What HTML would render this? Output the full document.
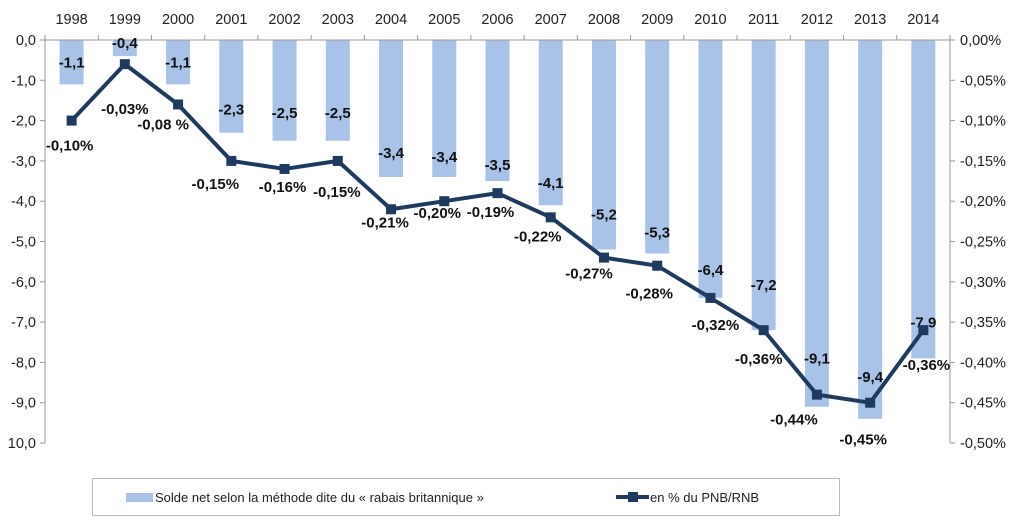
<!DOCTYPE html>
<html><head><meta charset="utf-8"><style>
body{margin:0;background:#fff;}
svg{display:block;font-family:"Liberation Sans",Arial,sans-serif;}
</style></head><body>
<svg id="chart" width="1028" height="521" viewBox="0 0 1028 521"></svg>
<script>
const years=["1998","1999","2000","2001","2002","2003","2004","2005","2006","2007","2008","2009","2010","2011","2012","2013","2014"];
const solde=[-1.1,-0.4,-1.1,-2.3,-2.5,-2.5,-3.4,-3.4,-3.5,-4.1,-5.2,-5.3,-6.4,-7.2,-9.1,-9.4,-7.9];
const pct=[-0.10,-0.03,-0.08,-0.15,-0.16,-0.15,-0.21,-0.20,-0.19,-0.22,-0.27,-0.28,-0.32,-0.36,-0.44,-0.45,-0.36];
const pctLabels=["-0,10%","-0,03%","-0,08 %","-0,15%","-0,16%","-0,15%","-0,21%","-0,20%","-0,19%","-0,22%","-0,27%","-0,28%","-0,32%","-0,36%","-0,44%","-0,45%","-0,36%"];
const leftTicks=["0,0","-1,0","-2,0","-3,0","-4,0","-5,0","-6,0","-7,0","-8,0","-9,0","10,0"];
const rightTicks=["0,00%","-0,05%","-0,10%","-0,15%","-0,20%","-0,25%","-0,30%","-0,35%","-0,40%","-0,45%","-0,50%"];
const barDy=[-22,-13,-22,-23,-28,-28,-24,-20,-16,-22,-35,-21,-28,-45,-48,-42,-36];
const lblOff=[[-2,25],[0,45],[-15,20],[-16,23],[-2,18],[-1,31],[-6,13],[-7,12],[-7,19],[-13,19],[-15,16],[-8,28],[5,27],[-5,29],[-23,25],[-7,37],[3,35]];
const NS="http://www.w3.org/2000/svg";
const svg=document.getElementById('chart');
const X0=45,X1=950,Y0=40,Y1=443;
const step=(X1-X0)/years.length;
const xc=i=>X0+step*(i+0.5);
const yL=v=>Y0+(-v/10)*(Y1-Y0);
const yR=v=>Y0+(-v/0.5)*(Y1-Y0);
function mk(t,a,txt){const e=document.createElementNS(NS,t);for(const k in a)e.setAttribute(k,a[k]);if(txt!==undefined)e.textContent=txt;svg.appendChild(e);return e;}
solde.forEach((v,i)=>{
 const r=mk('rect',{x:xc(i)-12,y:Y0,width:24,height:yL(v)-Y0,fill:'#a9c3e8'});
 
 
});
const la=mk('line',{x1:X0,y1:Y0,x2:X0,y2:Y1,stroke:'#999'});

const ra=mk('line',{x1:X1,y1:Y0,x2:X1,y2:Y1,stroke:'#999'});

const za=mk('line',{x1:X0,y1:Y0,x2:X1,y2:Y0,stroke:'#999'});

leftTicks.forEach((t,i)=>{
 const y=Y0+i*(Y1-Y0)/10;
 mk('line',{x1:X0-5,y1:y,x2:X0,y2:y,stroke:'#999'});
 mk('line',{x1:X1,y1:y,x2:X1+5,y2:y,stroke:'#999'});
 const a=mk('text',{x:X0-9,y:y+5,'text-anchor':'end','font-size':14.5,fill:'#222'},t);
 
 const b=mk('text',{x:X1+10,y:y+5,'font-size':14.5,fill:'#222'},rightTicks[i]);
 
});
years.forEach((yr,i)=>{
 mk('line',{x1:X0+step*i,y1:Y0-5,x2:X0+step*i,y2:Y0,stroke:'#999'});
 const t=mk('text',{x:xc(i),y:24,'text-anchor':'middle','font-size':14.5,fill:'#222'},yr);
 
});
mk('line',{x1:X1,y1:Y0-5,x2:X1,y2:Y0,stroke:'#999'});
solde.forEach((v,i)=>{
 const t=mk('text',{x:xc(i),y:yL(v)+barDy[i]+5,'text-anchor':'middle','font-size':15,'font-weight':'bold',fill:'#111'},v.toFixed(1).replace('.',','));
 
});
const pts=pct.map((v,i)=>xc(i)+','+yR(v)).join(' ');
const pl=mk('polyline',{points:pts,fill:'none',stroke:'#1f3a5f','stroke-width':4,'stroke-linejoin':'round'});

pct.forEach((v,i)=>{
 const m=mk('rect',{x:xc(i)-5,y:yR(v)-5,width:10,height:10,fill:'#1f3a5f'});
 
 const t=mk('text',{x:xc(i)+lblOff[i][0],y:yR(v)+lblOff[i][1]+5,'text-anchor':'middle','font-size':15,'font-weight':'bold',fill:'#111'},pctLabels[i]);
 
});
const lg=mk('rect',{x:92.5,y:478.5,width:747,height:37,fill:'#fff',stroke:'#bbb'});

const ls=mk('rect',{x:126,y:493,width:27,height:9,fill:'#a9c3e8'});

const lt=mk('text',{x:155,y:502,'font-size':13,fill:'#222'},'Solde net selon la méthode dite du « rabais britannique »');

const ll=mk('line',{x1:616,y1:497,x2:649,y2:497,stroke:'#1f3a5f','stroke-width':4});

mk('rect',{x:628,y:492,width:10,height:10,fill:'#1f3a5f'});
const lt2=mk('text',{x:650,y:502,'font-size':13,fill:'#222'},'en % du PNB/RNB');

</script>
</body></html>
